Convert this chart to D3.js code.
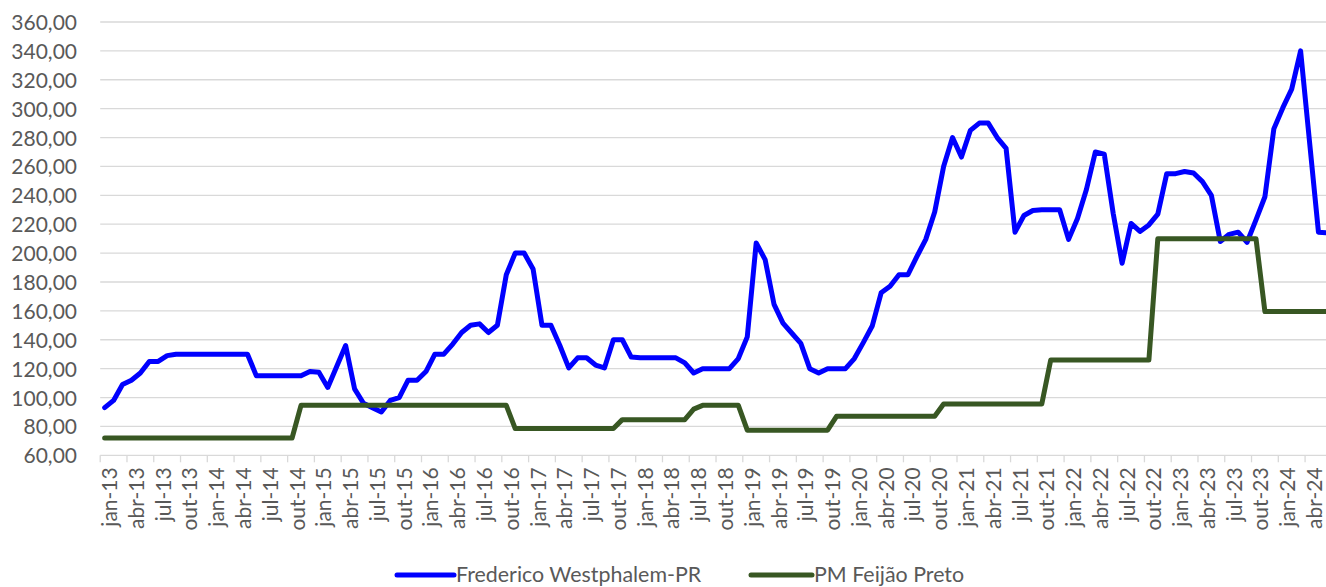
<!DOCTYPE html>
<html>
<head>
<meta charset="utf-8">
<script src="https://cdn.jsdelivr.net/npm/d3@7"></script>
<style>
  html, body { margin: 0; padding: 0; background: #ffffff; }
  svg { display: block; }
  text { font-family: Lato, "Open Sans", sans-serif; fill: #595959; }
</style>
</head>
<body>
<svg id="chart" width="1326" height="587"></svg>
<script>
// ---------- data ----------
const monthNames = ["jan","fev","mar","abr","mai","jun","jul","ago","set","out","nov","dez"];
const years = [13,14,15,16,17,18,19,20,21,22,23,24];
const lastMonthIndex2024 = 5; // jun-24
const categories = [];
years.forEach(y => monthNames.forEach((m, i) => {
  if (y < 24 || i <= lastMonthIndex2024) categories.push(m + "-" + y);
}));

const seriesNames = ["Frederico Westphalem-PR", "PM Feijão Preto"];

const fredericoValues = [
  93, 98, 109, 112, 117, 125, 125, 129, 130, 130,
  130, 130, 130, 130, 130, 130, 130, 115, 115, 115,
  115, 115, 115, 118, 117.5, 107, 121.5, 136, 106, 96,
  93, 90, 98, 100, 112, 112, 118, 130, 130, 137,
  145, 150, 151, 145, 150, 185, 200, 200, 189, 150,
  150, 136, 120.5, 127.5, 127.5, 122.5, 120.5, 140, 140, 128,
  127.5, 127.5, 127.5, 127.5, 127.5, 124, 117, 120, 120, 120,
  120, 127, 142, 207, 195.5, 164.5, 151.5, 144.5, 137.5, 120,
  117, 120, 120, 120, 127, 138, 149.5, 172.5, 177, 185,
  185, 197.5, 209.5, 228.5, 260, 280, 266.5, 285, 290, 290,
  280, 272.5, 214.5, 226, 229.5, 230, 230, 230, 209.5, 224,
  244, 270, 268.5, 227.5, 193, 220.5, 215, 219.5, 227, 255,
  255, 256.5, 255.5, 249.5, 240, 208, 213, 214.5, 207.5, 223,
  239, 286, 300.5, 313.5, 340, 277, 214.5, 214
];

const pmValues = [
  72, 72, 72, 72, 72, 72, 72, 72, 72, 72,
  72, 72, 72, 72, 72, 72, 72, 72, 72, 72,
  72, 72, 94.6, 94.6, 94.6, 94.6, 94.6, 94.6, 94.6, 94.6,
  94.6, 94.6, 94.6, 94.6, 94.6, 94.6, 94.6, 94.6, 94.6, 94.6,
  94.6, 94.6, 94.6, 94.6, 94.6, 94.6, 78.5, 78.5, 78.5, 78.5,
  78.5, 78.5, 78.5, 78.5, 78.5, 78.5, 78.5, 78.5, 84.7, 84.7,
  84.7, 84.7, 84.7, 84.7, 84.7, 84.7, 92, 94.6, 94.6, 94.6,
  94.6, 94.6, 77.4, 77.4, 77.4, 77.4, 77.4, 77.4, 77.4, 77.4,
  77.4, 77.4, 87, 87, 87, 87, 87, 87, 87, 87,
  87, 87, 87, 87, 95.5, 95.5, 95.5, 95.5, 95.5, 95.5,
  95.5, 95.5, 95.5, 95.5, 95.5, 95.5, 126, 126, 126, 126,
  126, 126, 126, 126, 126, 126, 126, 126, 210, 210,
  210, 210, 210, 210, 210, 210, 210, 210, 210, 210,
  159.5, 159.5, 159.5, 159.5, 159.5, 159.5, 159.5, 159.5
];

const yTicks = [60, 80, 100, 120, 140, 160, 180, 200, 220, 240, 260, 280, 300, 320, 340, 360];
const xLabelStep = 3;

// ---------- layout ----------
const svg = d3.select("#chart");
const plotLeft = 100.2;
const catWidth = 8.925;
const plotRight = plotLeft + categories.length * catWidth;
const plotTop = 22;
const plotBottom = 455.3;
const axisFont = "21px";
const legendFont = "21.4px";

const x = d3.scaleBand().domain(categories).range([plotLeft, plotRight]).padding(0);
const xc = d => x(d) + x.bandwidth() / 2;
const y = d3.scaleLinear().domain([60, 360]).range([plotBottom, plotTop]);

const gridColor = "#d9d9d9";

// gridlines
svg.append("g").selectAll("line")
  .data(yTicks.filter(t => t > 60))
  .join("line")
  .attr("x1", plotLeft).attr("x2", plotRight)
  .attr("y1", d => y(d)).attr("y2", d => y(d))
  .attr("stroke", gridColor).attr("stroke-width", 1.3);

// y axis labels
const yAxis = d3.axisLeft(y).tickValues(yTicks).tickSize(0).tickPadding(0)
  .tickFormat(d => d3.format(".2f")(d).replace(".", ","));
const gy = svg.append("g").attr("transform", "translate(77,0)").call(yAxis);
gy.select(".domain").remove();
gy.selectAll("text").attr("font-size", axisFont).attr("font-family", "Lato, 'Open Sans', sans-serif")
  .attr("fill", "#595959").attr("dy", "0.36em");

// x axis line
svg.append("line")
  .attr("x1", plotLeft).attr("x2", plotRight)
  .attr("y1", plotBottom).attr("y2", plotBottom)
  .attr("stroke", gridColor).attr("stroke-width", 1.3);

// x tick marks (at category boundaries, every 3)
const tickCats = categories.filter((c, i) => i % xLabelStep === 0);
svg.append("g").selectAll("line")
  .data(tickCats)
  .join("line")
  .attr("x1", d => x(d)).attr("x2", d => x(d))
  .attr("y1", plotBottom).attr("y2", plotBottom + 7)
  .attr("stroke", gridColor).attr("stroke-width", 1.3);

// x labels
const xAxis = d3.axisBottom(x).tickValues(tickCats).tickSize(0).tickPadding(0);
const gx = svg.append("g").attr("transform", `translate(0,${plotBottom})`).call(xAxis);
gx.select(".domain").remove();
gx.selectAll(".tick text")
  .attr("font-size", axisFont).attr("font-family", "Lato, 'Open Sans', sans-serif")
  .attr("fill", "#595959")
  .attr("text-anchor", "end")
  .attr("dy", null).attr("y", null)
  .attr("transform", "translate(12.5,12) rotate(-90)");

// lines (PM drawn last, on top)
const colors = ["#0000ff", "#385723"];
const series = [fredericoValues, pmValues];
const line = d3.line().x((d, i) => xc(categories[i])).y(d => y(d));

[0, 1].forEach(k => {
  svg.append("path")
    .datum(series[k])
    .attr("d", line)
    .attr("fill", "none")
    .attr("stroke", colors[k])
    .attr("stroke-width", 5)
    .attr("stroke-linejoin", "round")
    .attr("stroke-linecap", "round");
});

// legend
const legendItems = [
  { name: seriesNames[0], color: colors[0], x1: 397, x2: 454, tx: 456 },
  { name: seriesNames[1], color: colors[1], x1: 751, x2: 812, tx: 814 }
];
const lg = svg.append("g");
legendItems.forEach(it => {
  lg.append("line").attr("x1", it.x1).attr("x2", it.x2).attr("y1", 575).attr("y2", 575)
    .attr("stroke", it.color).attr("stroke-width", 5).attr("stroke-linecap", "round");
  lg.append("text").attr("x", it.tx).attr("y", 581.5).attr("font-size", legendFont)
    .text(it.name);
});
</script>
</body>
</html>
